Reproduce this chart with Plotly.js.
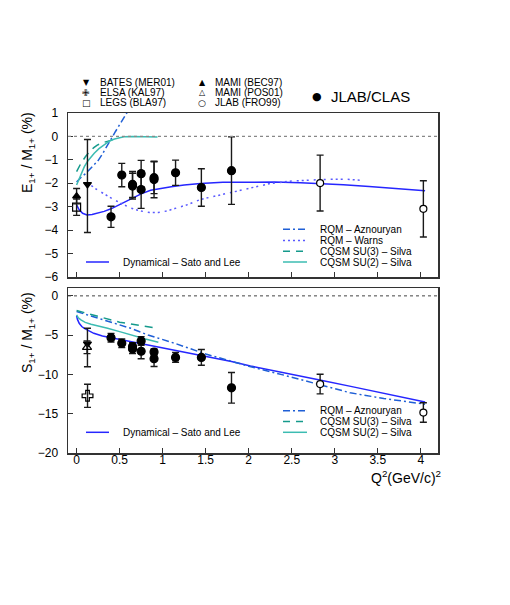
<!DOCTYPE html>
<html>
<head>
<meta charset="utf-8">
<script src="https://cdn.plot.ly/plotly-3.0.1.min.js"></script>
<style>html,body{margin:0;padding:0;background:#fff;}#chart{width:510px;height:605px;}</style>
</head>
<body>
<div id="chart"></div>
<script>
// ---------------- DATA ----------------
// JLAB/CLAS (filled circles)
const clasQ2  = [0.40, 0.525, 0.65, 0.65, 0.75, 0.75, 0.90, 0.90, 1.15, 1.45, 1.80];
const clasEMR = [-3.43, -1.65, -2.05, -2.12, -1.59, -2.27, -1.76, -1.84, -1.55, -2.18, -1.46];
const clasEMRerr = [0.45, 0.50, 0.55, 0.55, 0.57, 0.80, 0.68, 0.78, 0.54, 0.80, 1.44];
const clasCMR = [-5.32, -6.04, -6.45, -6.75, -5.74, -7.05, -7.15, -8.00, -7.83, -7.83, -11.70];
const clasCMRerr = [0.55, 0.55, 0.50, 0.60, 0.55, 0.95, 0.40, 1.00, 0.62, 1.00, 1.95];
// JLAB (FRO99) open circles
const froQ2 = [2.83, 4.03];
const froEMR = [-1.99, -3.09];
const froEMRerr = [1.19, 1.20];
const froCMR = [-11.23, -14.85];
const froCMRerr = [1.25, 1.24];
// BATES (MER01)
const batesQ2 = [0.126];
const batesEMR = [-2.05], batesEMRup = [1.92], batesEMRdn = [2.05];
const batesCMR = [-6.10], batesCMRup = [1.97], batesCMRdn = [2.92];
// MAMI (BEC97) - photon point
const becQ2 = [0.0];
const becEMR = [-2.55], becEMRerr = [0.33];
// LEGS (BLA97)
const legsQ2 = [0.0];
const legsEMR = [-3.02], legsEMRerr = [0.35];
// MAMI (POS01)
const posQ2 = [0.121];
const posCMR = [-6.55], posCMRerr = [0.80];
// ELSA (KAL97)
const elsaQ2 = [0.127];
const elsaCMR = [-12.72], elsaCMRerr = [1.47];

// Theory curves, E1+/M1+
const satoEQ2 = [0, 0.03, 0.07, 0.12, 0.18, 0.24, 0.32, 0.4, 0.5, 0.63, 0.75, 0.86, 1.0, 1.1, 1.25, 1.44, 1.7, 2.02, 2.3, 2.6, 2.84, 3.1, 3.4, 3.7, 4.05];
const satoE   = [-2.92, -3.13, -3.28, -3.35, -3.33, -3.28, -3.2, -3.09, -2.9, -2.65, -2.45, -2.3, -2.2, -2.15, -2.07, -2.01, -1.96, -1.94, -1.95, -1.98, -2.01, -2.06, -2.14, -2.22, -2.32];
const warnsEQ2 = [0.12, 0.18, 0.24, 0.34, 0.44, 0.54, 0.63, 0.74, 0.85, 0.95, 1.05, 1.14, 1.3, 1.44, 1.6, 1.8, 2.02, 2.25, 2.48, 2.65, 2.84, 3.0, 3.15, 3.3];
const warnsE   = [-2.0, -2.12, -2.28, -2.5, -2.71, -2.9, -3.06, -3.18, -3.25, -3.25, -3.18, -3.08, -2.9, -2.69, -2.55, -2.4, -2.2, -2.01, -1.91, -1.87, -1.84, -1.83, -1.83, -1.87];
const aznEQ2 = [0, 0.05, 0.1, 0.15, 0.2, 0.25, 0.3, 0.35, 0.4, 0.45, 0.5, 0.55, 0.6];
const aznE   = [-1.95, -1.75, -1.6, -1.42, -1.25, -1.03, -0.75, -0.42, -0.1, 0.2, 0.5, 0.8, 1.1];
const su2EQ2 = [0, 0.03, 0.06, 0.09, 0.13, 0.17, 0.205, 0.26, 0.32, 0.38, 0.44, 0.5, 0.55, 0.65, 0.75, 0.85, 0.94];
const su2E   = [-2.07, -1.8, -1.52, -1.29, -1.05, -0.86, -0.72, -0.52, -0.34, -0.2, -0.11, -0.05, -0.01, 0.0, 0.0, -0.01, -0.02];
const su3EQ2 = [0, 0.05, 0.1, 0.15, 0.2, 0.24, 0.3, 0.36, 0.42];
const su3E   = [-1.5, -1.15, -0.88, -0.65, -0.48, -0.37, -0.27, -0.2, -0.15];

// Theory curves, S1+/M1+
const satoSQ2 = [0, 0.01, 0.03, 0.06, 0.09, 0.14, 0.2, 0.3, 0.44, 0.63, 0.83, 1.02, 1.2, 1.5, 1.8, 2.02, 2.4, 2.84, 3.2, 3.6, 4.05];
const satoS   = [-2.55, -3.0, -3.49, -3.9, -4.13, -4.45, -4.77, -5.1, -5.4, -5.8, -6.26, -6.68, -7.05, -7.66, -8.35, -8.92, -9.8, -10.75, -11.55, -12.48, -13.5];
const aznSQ2 = [0, 0.128, 0.244, 0.44, 0.63, 0.83, 1.02, 1.14, 1.5, 2.0, 2.41, 2.84, 3.18, 3.57, 4.05];
const aznS   = [-2.0, -2.43, -2.85, -3.49, -4.13, -4.98, -5.62, -6.04, -7.4, -8.95, -10.09, -11.36, -12.34, -13.06, -13.79];
const su3SQ2 = [0, 0.2, 0.36, 0.5, 0.63, 0.8, 0.94];
const su3S   = [-1.87, -2.5, -3.0, -3.35, -3.58, -3.9, -4.13];
const su2SQ2 = [0, 0.02, 0.05, 0.1, 0.167, 0.25, 0.36, 0.5, 0.63, 0.8, 0.95];
const su2S   = [-2.43, -2.8, -3.06, -3.38, -3.62, -3.88, -4.13, -4.55, -4.98, -5.5, -5.9];

const xTicks = [0, 0.5, 1, 1.5, 2, 2.5, 3, 3.5, 4];
const xTickText = ['0', '0.5', '1', '1.5', '2', '2.5', '3', '3.5', '4'];
const yTicksE = [1, 0, -1, -2, -3, -4, -5, -6];
const yTicksS = [0, -5, -10, -15, -20];

// ---------------- STYLE ----------------
const C_SATO = '#2626ff', C_AZN = '#1f5fd6', C_WARNS = '#5a5aff', C_SU3 = '#159a8c', C_SU2 = '#3cbcb2';
const D_AZN = '7px,3px,2px,3px', D_WARNS = '2px,3px,2px,3px,2px,5px', D_SU3 = '8px,6px';
const FONT = 'Liberation Sans, Arial, Helvetica, sans-serif';

function errs(arr, minus) {
  const e = {type: 'data', array: arr, color: '#1a1a1a', thickness: 1.4, width: 3.5, visible: true};
  if (minus) { e.symmetric = false; e.arrayminus = minus; }
  return e;
}
function curve(x, y, color, dash, xa, ya) {
  return {x: x, y: y, xaxis: xa, yaxis: ya, mode: 'lines', type: 'scatter', showlegend: false,
          hoverinfo: 'skip', line: {color: color, width: 1.5, dash: dash}};
}
function pts(x, y, err, sym, size, fill, xa, ya, minus) {
  return {x: x, y: y, xaxis: xa, yaxis: ya, mode: 'markers', type: 'scatter', showlegend: false,
          error_y: errs(err, minus),
          marker: {symbol: sym, size: size, color: fill, line: {color: '#000', width: 1.2}}};
}

const traces = [
  // top panel curves
  curve(satoEQ2, satoE, C_SATO, 'solid', 'x', 'y'),
  curve(warnsEQ2, warnsE, C_WARNS, D_WARNS, 'x', 'y'),
  curve(aznEQ2, aznE, C_AZN, D_AZN, 'x', 'y'),
  curve(su3EQ2, su3E, C_SU3, D_SU3, 'x', 'y'),
  curve(su2EQ2, su2E, C_SU2, 'solid', 'x', 'y'),
  // top panel data
  pts(legsQ2, legsEMR, legsEMRerr, 'square-open', 8, '#000', 'x', 'y'),
  pts(becQ2, becEMR, becEMRerr, 'triangle-up', 7, '#000', 'x', 'y'),
  pts(batesQ2, batesEMR, batesEMRup, 'triangle-down', 7, '#000', 'x', 'y', batesEMRdn),
  pts(clasQ2, clasEMR, clasEMRerr, 'circle', 8, '#000', 'x', 'y'),
  pts(froQ2, froEMR, froEMRerr, 'circle', 7, '#fff', 'x', 'y'),
  // bottom panel curves
  curve(satoSQ2, satoS, C_SATO, 'solid', 'x2', 'y2'),
  curve(aznSQ2, aznS, C_AZN, D_AZN, 'x2', 'y2'),
  curve(su3SQ2, su3S, C_SU3, D_SU3, 'x2', 'y2'),
  curve(su2SQ2, su2S, C_SU2, 'solid', 'x2', 'y2'),
  // bottom panel data
  pts(elsaQ2, elsaCMR, elsaCMRerr, 'cross-open', 9, '#000', 'x2', 'y2'),
  pts(batesQ2, batesCMR, batesCMRup, 'triangle-down', 7, '#000', 'x2', 'y2', batesCMRdn),
  pts(posQ2, posCMR, posCMRerr, 'triangle-up-open', 8, '#000', 'x2', 'y2'),
  pts(clasQ2, clasCMR, clasCMRerr, 'circle', 8, '#000', 'x2', 'y2'),
  pts(froQ2, froCMR, froCMRerr, 'circle', 7, '#fff', 'x2', 'y2')
];

// ---------------- LAYOUT ----------------
const W = 510, H = 605, L = 68, R = 72, T = 113, B = 152;
const PW = W - L - R, PH = H - T - B;
const px = v => (v - L) / PW;           // pixel x -> paper x
const py = v => (H - B - v) / PH;       // pixel y -> paper y

const axisCommon = {
  showline: true, mirror: true, linecolor: '#333', linewidth: 1.5,
  ticks: 'inside', ticklen: 5, tickwidth: 1, tickcolor: '#333',
  showgrid: false, zeroline: false, tickfont: {family: FONT, size: 12, color: '#000'}
};

const annotations = [];
const shapes = [];
function txt(x, y, text, size, anchor) {
  annotations.push({xref: 'paper', yref: 'paper', x: px(x), y: py(y), text: text, showarrow: false,
    xanchor: anchor || 'left', yanchor: 'middle', borderpad: 0,
    font: {family: FONT, size: size, color: '#000'}});
}
function sample(x0, x1, y, color, dash, width) {
  shapes.push({type: 'line', xref: 'paper', yref: 'paper', x0: px(x0), x1: px(x1), y0: py(y), y1: py(y),
    line: {color: color, width: width || 1.5, dash: dash}});
}

// top marker legend
const symFont = 'DejaVu Sans, sans-serif';
function symb(x, y, ch, size) {
  annotations.push({xref: 'paper', yref: 'paper', x: px(x), y: py(y), text: ch, showarrow: false,
    xanchor: 'center', yanchor: 'middle', borderpad: 0,
    font: {family: symFont, size: size || 8, color: '#000'}});
}
symb(86, 82.7, '▼'); txt(99, 82.7, 'BATES (MER01)', 10);
symb(86, 92.7, '✙', 9); txt(99, 92.7, 'ELSA (KAL97)', 10);
symb(86, 102.7, '□', 9); txt(99, 102.7, 'LEGS (BLA97)', 10);
symb(202, 82.7, '▲'); txt(214, 82.7, 'MAMI (BEC97)', 10);
symb(202, 92.7, '△'); txt(214, 92.7, 'MAMI (POS01)', 10);
symb(202, 102.7, '○', 9); txt(214, 102.7, 'JLAB (FRO99)', 10);
symb(317, 96.7, '●', 11); txt(330, 96.7, 'JLAB/CLAS', 15);

// top panel legends
const LF = 10;
sample(86, 109, 262, C_SATO, 'solid'); txt(122, 262, 'Dynamical – Sato and Lee', LF);
sample(283, 307, 229.3, C_AZN, D_AZN); txt(319, 229.3, 'RQM – Aznouryan', LF);
sample(283, 307, 240.5, C_WARNS, '2px,3px'); txt(319, 240.5, 'RQM – Warns', LF);
sample(283, 307, 251.3, C_SU3, '7px,6px'); txt(319, 251.3, 'CQSM SU(3) – Silva', LF);
sample(283, 307, 262, C_SU2, 'solid'); txt(319, 262, 'CQSM SU(2) – Silva', LF);
// bottom panel legends
sample(86, 109, 432.3, C_SATO, 'solid'); txt(122, 432.3, 'Dynamical – Sato and Lee', LF);
sample(283, 307, 410.7, C_AZN, D_AZN); txt(319, 410.7, 'RQM – Aznouryan', LF);
sample(283, 307, 421.5, C_SU3, '7px,6px'); txt(319, 421.5, 'CQSM SU(3) – Silva', LF);
sample(283, 307, 432.3, C_SU2, 'solid'); txt(319, 432.3, 'CQSM SU(2) – Silva', LF);

// axis titles
annotations.push({xref: 'paper', yref: 'paper', x: px(28), y: py(153), textangle: -90, showarrow: false,
  xanchor: 'center', yanchor: 'middle', text: 'E<sub>1+</sub> / M<sub>1+</sub> (%)',
  font: {family: FONT, size: 14, color: '#000'}});
annotations.push({xref: 'paper', yref: 'paper', x: px(28), y: py(333), textangle: -90, showarrow: false,
  xanchor: 'center', yanchor: 'middle', text: 'S<sub>1+</sub> / M<sub>1+</sub> (%)',
  font: {family: FONT, size: 14, color: '#000'}});
annotations.push({xref: 'paper', yref: 'paper', x: px(443), y: py(477), showarrow: false,
  xanchor: 'right', yanchor: 'middle', text: 'Q<sup>2</sup>(GeV/c)<sup>2</sup>',
  font: {family: FONT, size: 14, color: '#000'}});

// zero reference lines
shapes.push({type: 'line', xref: 'x domain', yref: 'y', x0: 0, x1: 1, y0: 0, y1: 0,
  line: {color: '#888', width: 1.2, dash: 'dot'}});
shapes.push({type: 'line', xref: 'x2 domain', yref: 'y2', x0: 0, x1: 1, y0: 0, y1: 0,
  line: {color: '#444', width: 1, dash: 'dot'}});

const topDomain = [(H - B - 277) / PH, 1];
const botDomain = [0, (H - B - 288) / PH];

const layout = {
  width: W, height: H,
  margin: {l: L, r: R, t: T, b: B, pad: 0},
  paper_bgcolor: '#fff', plot_bgcolor: '#fff',
  showlegend: false,
  font: {family: FONT, size: 12, color: '#000'},
  xaxis: Object.assign({}, axisCommon, {anchor: 'y', range: [-0.1, 4.2], tickvals: xTicks,
    showticklabels: false}),
  yaxis: Object.assign({}, axisCommon, {anchor: 'x', domain: topDomain, range: [-6, 1],
    tickvals: yTicksE, ticktext: yTicksE.map(v => v < 0 ? '−' + Math.abs(v) : String(v)), ticklabelstandoff: 6}),
  xaxis2: Object.assign({}, axisCommon, {anchor: 'y2', range: [-0.1, 4.2], tickvals: xTicks,
    ticktext: xTickText, ticklabelstandoff: -5}),
  yaxis2: Object.assign({}, axisCommon, {anchor: 'x2', domain: botDomain, range: [-20, 1],
    tickvals: yTicksS, ticktext: yTicksS.map(v => v < 0 ? '−' + Math.abs(v) : String(v)), ticklabelstandoff: 6}),
  annotations: annotations,
  shapes: shapes
};

Plotly.newPlot('chart', traces, layout, {displayModeBar: false, staticPlot: true});
</script>
</body>
</html>
